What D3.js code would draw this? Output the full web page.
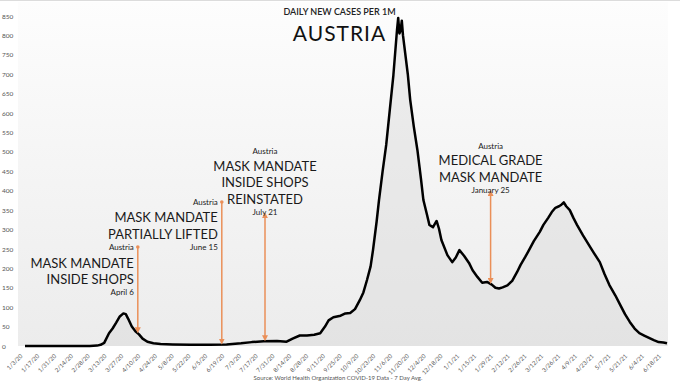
<!DOCTYPE html>
<html>
<head>
<meta charset="utf-8">
<script src="https://cdn.jsdelivr.net/npm/d3@7"></script>
<style>
  body { margin: 0; background: #fff; }
  svg { display: block; font-family: Lato, "Open Sans", sans-serif; }
</style>
</head>
<body>
<div id="chart"></div>
<script>
var svgWidth = 680;
var svgHeight = 383;

// 7 day average of new cases per 1M
var dates = [
  "2020-01-03", "2020-02-01", "2020-02-26", "2020-03-03", "2020-03-06", "2020-03-09", "2020-03-13",
  "2020-03-16", "2020-03-19", "2020-03-22", "2020-03-25", "2020-03-27", "2020-03-29", "2020-04-01",
  "2020-04-04", "2020-04-07", "2020-04-10", "2020-04-14", "2020-04-19", "2020-04-25", "2020-05-05",
  "2020-05-20", "2020-06-05", "2020-06-19", "2020-07-01", "2020-07-10", "2020-07-20", "2020-07-31",
  "2020-08-08", "2020-08-13", "2020-08-19", "2020-08-25", "2020-08-31", "2020-09-05", "2020-09-09",
  "2020-09-12", "2020-09-16", "2020-09-22", "2020-09-26", "2020-09-30", "2020-10-04", "2020-10-08",
  "2020-10-11", "2020-10-14", "2020-10-17", "2020-10-19", "2020-10-22", "2020-10-24", "2020-10-27",
  "2020-10-30", "2020-11-02", "2020-11-05", "2020-11-08", "2020-11-09", "2020-11-10", "2020-11-11",
  "2020-11-12", "2020-11-13", "2020-11-14", "2020-11-17", "2020-11-19", "2020-11-22", "2020-11-25",
  "2020-11-28", "2020-11-30", "2020-12-03", "2020-12-05", "2020-12-08", "2020-12-11", "2020-12-13",
  "2020-12-15", "2020-12-20", "2020-12-24", "2020-12-27", "2020-12-30", "2021-01-03", "2021-01-07",
  "2021-01-10", "2021-01-14", "2021-01-18", "2021-01-22", "2021-01-26", "2021-01-29", "2021-02-01",
  "2021-02-04", "2021-02-08", "2021-02-12", "2021-02-16", "2021-02-19", "2021-02-23", "2021-02-26",
  "2021-03-02", "2021-03-07", "2021-03-10", "2021-03-14", "2021-03-17", "2021-03-20", "2021-03-23",
  "2021-03-25", "2021-03-27", "2021-03-29", "2021-04-01", "2021-04-04", "2021-04-07", "2021-04-12",
  "2021-04-17", "2021-04-21", "2021-04-26", "2021-04-30", "2021-05-04", "2021-05-09", "2021-05-13",
  "2021-05-17", "2021-05-21", "2021-05-25", "2021-05-29", "2021-06-02", "2021-06-06", "2021-06-10",
  "2021-06-14", "2021-06-18", "2021-06-21"
];
var values = [
  0, 0, 0, 1, 3, 8, 33,
  45, 60, 76, 84, 82, 70, 50,
  38, 30, 19, 11, 7, 5, 4,
  3, 3, 4, 7, 10, 12, 13,
  11, 19, 27, 27, 29, 33, 50,
  66, 74, 78, 84, 85, 95, 118,
  138, 170, 205, 247, 320, 376, 450,
  518, 608, 698, 814, 845, 805, 812,
  838, 800, 775, 700, 634, 565, 505,
  430, 376, 338, 312, 306, 322, 302,
  273, 234, 216, 228, 247, 232, 214,
  195, 178, 163, 165, 158, 150, 148,
  151, 156, 168, 190, 209, 230, 247,
  270, 294, 312, 330, 345, 356, 360,
  364, 370, 360, 350, 330, 312, 285,
  260, 240, 216, 185, 157, 130, 106,
  82, 62, 45, 33, 27, 21, 15,
  10, 9, 7
];

var yTicks = [0, 50, 100, 150, 200, 250, 300, 350, 400, 450, 500, 550, 600, 650, 700, 750, 800, 850];
var xTickLabels = [
  "1/3/20", "1/17/20", "1/31/20", "2/14/20", "2/28/20", "3/13/20", "3/27/20", "4/10/20", "4/24/20",
  "5/8/20", "5/22/20", "6/5/20", "6/19/20", "7/3/20", "7/17/20", "7/31/20", "8/14/20", "8/28/20",
  "9/11/20", "9/25/20", "10/9/20", "10/23/20", "11/6/20", "11/20/20", "12/4/20", "12/18/20",
  "1/1/21", "1/15/21", "1/29/21", "2/12/21", "2/26/21", "3/12/21", "3/26/21", "4/9/21", "4/23/21",
  "5/7/21", "5/21/21", "6/4/21", "6/18/21"
];

// policy events; "top" is where the orange marker starts, in cases per 1M
var annotations = [
  {date: "2020-04-06", label: "April 6", lines: ["MASK MANDATE", "INSIDE SHOPS"], top: 255, side: "left"},
  {date: "2020-06-15", label: "June 15", lines: ["MASK MANDATE", "PARTIALLY LIFTED"], top: 371, side: "left"},
  {date: "2020-07-21", label: "July 21", lines: ["MASK MANDATE", "INSIDE SHOPS", "REINSTATED"], top: 337, side: "above"},
  {date: "2021-01-25", label: "January 25", lines: ["MEDICAL GRADE", "MASK MANDATE"], top: 394, side: "above"}
];

var parseDay = d3.timeParse("%Y-%m-%d");
var parseTick = d3.timeParse("%m/%d/%y");

var data = dates.map(function(d, i) {
  return {date: parseDay(d), value: values[i]};
});

var svg = d3.select("#chart")
  .append("svg")
  .attr("width", svgWidth)
  .attr("height", svgHeight);

var xScale = d3.scaleTime()
  .domain([parseDay("2020-01-03"), parseDay("2021-06-21")])
  .range([25, 667]);

var yScale = d3.scaleLinear()
  .domain([0, 850])
  .range([346, 16]);

// background gradient of the plot
var defs = svg.append("defs");
var grad = defs.append("linearGradient")
  .attr("id", "bg")
  .attr("x1", 0).attr("y1", 0).attr("x2", 0).attr("y2", 1);
grad.append("stop").attr("offset", "0%").attr("stop-color", "#fdfdfd");
grad.append("stop").attr("offset", "100%").attr("stop-color", "#ececec");

defs.append("marker")
  .attr("id", "head")
  .attr("viewBox", "0 0 10 10")
  .attr("refX", 5).attr("refY", 5)
  .attr("markerWidth", 4).attr("markerHeight", 4)
  .attr("orient", "auto-start-reverse")
  .append("path")
  .attr("d", "M0,0 L10,5 L0,10 z")
  .attr("fill", "#ea8f58");

svg.append("line")
  .attr("x1", 0).attr("x2", svgWidth)
  .attr("y1", 0.5).attr("y2", 0.5)
  .attr("stroke", "#dcdcdc");

svg.append("rect")
  .attr("x", 18)
  .attr("y", 2)
  .attr("width", 650)
  .attr("height", 344)
  .attr("fill", "url(#bg)");

// light shading under the curve (stands in for the daily bars)
var area = d3.area()
  .x(d => xScale(d.date))
  .y0(yScale(0))
  .y1(d => yScale(d.value));

svg.append("path")
  .datum(data)
  .attr("d", area)
  .attr("fill", "#d6d6d6")
  .attr("opacity", 0.4);

// axes
var leftAxis = d3.axisLeft(yScale).tickValues(yTicks).tickSize(0);
var yAxisG = svg.append("g")
  .attr("transform", "translate(2,0)")
  .call(leftAxis);
yAxisG.select(".domain").remove();
yAxisG.selectAll("text")
  .attr("x", 0)
  .style("text-anchor", "start")
  .attr("font-size", "6.5px")
  .attr("font-family", "Lato, sans-serif")
  .attr("fill", "#555");

var bottomAxis = d3.axisBottom(xScale)
  .tickValues(xTickLabels.map(parseTick))
  .tickFormat((d, i) => xTickLabels[i])
  .tickSize(0);
var xAxisG = svg.append("g")
  .attr("transform", `translate(0, ${yScale(0)})`)
  .call(bottomAxis);
xAxisG.select(".domain").remove();
xAxisG.selectAll("text")
  .attr("x", 0)
  .attr("y", 0)
  .attr("dy", "0.35em")
  .attr("transform", "translate(-4,9) rotate(-45)")
  .style("text-anchor", "end")
  .attr("font-size", "6px")
  .attr("font-family", "Lato, sans-serif")
  .attr("fill", "#555");

// the 7 day average line
var line = d3.line()
  .x(d => xScale(d.date))
  .y(d => yScale(d.value));

svg.append("path")
  .datum(data)
  .attr("d", line)
  .attr("fill", "none")
  .attr("stroke", "#000")
  .attr("stroke-width", 2.5)
  .attr("stroke-linejoin", "round");

// annotations
var bisect = d3.bisector(d => d.date).left;
function valueAt(date) {
  var i = bisect(data, date);
  var a = data[i - 1], b = data[i];
  var t = (date - a.date) / (b.date - a.date);
  return a.value + t * (b.value - a.value);
}

annotations.forEach(function(a) {
  var d = parseDay(a.date);
  var xPos = xScale(d);
  var yTop = yScale(a.top);
  var yBottom = yScale(valueAt(d)) - 3;
  var g = svg.append("g");

  g.append("line")
    .attr("x1", xPos).attr("x2", xPos)
    .attr("y1", yTop).attr("y2", yBottom)
    .attr("stroke", "#ea8f58")
    .attr("stroke-width", 1.5)
    .attr("marker-start", a.side == "left" ? null : "url(#head)")
    .attr("marker-end", "url(#head)");

  if (a.side == "left") {
    g.append("circle")
      .attr("cx", xPos).attr("cy", yTop).attr("r", 1.8)
      .attr("fill", "#ea8f58");
  }

  var rows = [];
  var anchor, tx;
  if (a.side == "left") {
    anchor = "end";
    tx = xPos - 4;
    rows.push({t: "Austria", y: yTop, big: false});
    a.lines.forEach(function(l, i) {
      rows.push({t: l, y: yTop + 15.5 + i * 16.5, big: true});
    });
    rows.push({t: a.label, y: yTop + 45, big: false});
  } else {
    anchor = "middle";
    tx = xPos;
    var n = a.lines.length;
    rows.push({t: a.label, y: yTop - 3, big: false});
    a.lines.forEach(function(l, i) {
      rows.push({t: l, y: yTop - 16.5 - (n - 1 - i) * 16.5, big: true});
    });
    rows.push({t: "Austria", y: yTop - 16.5 - (n - 1) * 16.5 - 14.5, big: false});
  }

  g.selectAll("text")
    .data(rows)
    .enter()
    .append("text")
    .attr("x", tx)
    .attr("y", r => r.y)
    .attr("dominant-baseline", "central")
    .attr("text-anchor", anchor)
    .attr("font-size", r => r.big ? "13px" : "8px")
    .attr("fill", "#1a1a1a")
    .text(r => r.t);
});

// titles
svg.append("text")
  .attr("x", 339.5)
  .attr("y", 11)
  .attr("dominant-baseline", "central")
  .attr("text-anchor", "middle")
  .attr("font-size", "9px")
  .attr("font-weight", 600)
  .attr("fill", "#222")
  .text("DAILY NEW CASES PER 1M");

svg.append("text")
  .attr("x", 339.5)
  .attr("y", 32)
  .attr("dominant-baseline", "central")
  .attr("text-anchor", "middle")
  .attr("font-size", "21px")
  .attr("letter-spacing", "1px")
  .attr("fill", "#111")
  .text("AUSTRIA");

svg.append("text")
  .attr("x", 338)
  .attr("y", 377)
  .attr("dominant-baseline", "central")
  .attr("text-anchor", "middle")
  .attr("font-size", "6px")
  .attr("fill", "#555")
  .text("Source: World Health Organization COVID-19 Data - 7 Day Avg.");
</script>
</body>
</html>
